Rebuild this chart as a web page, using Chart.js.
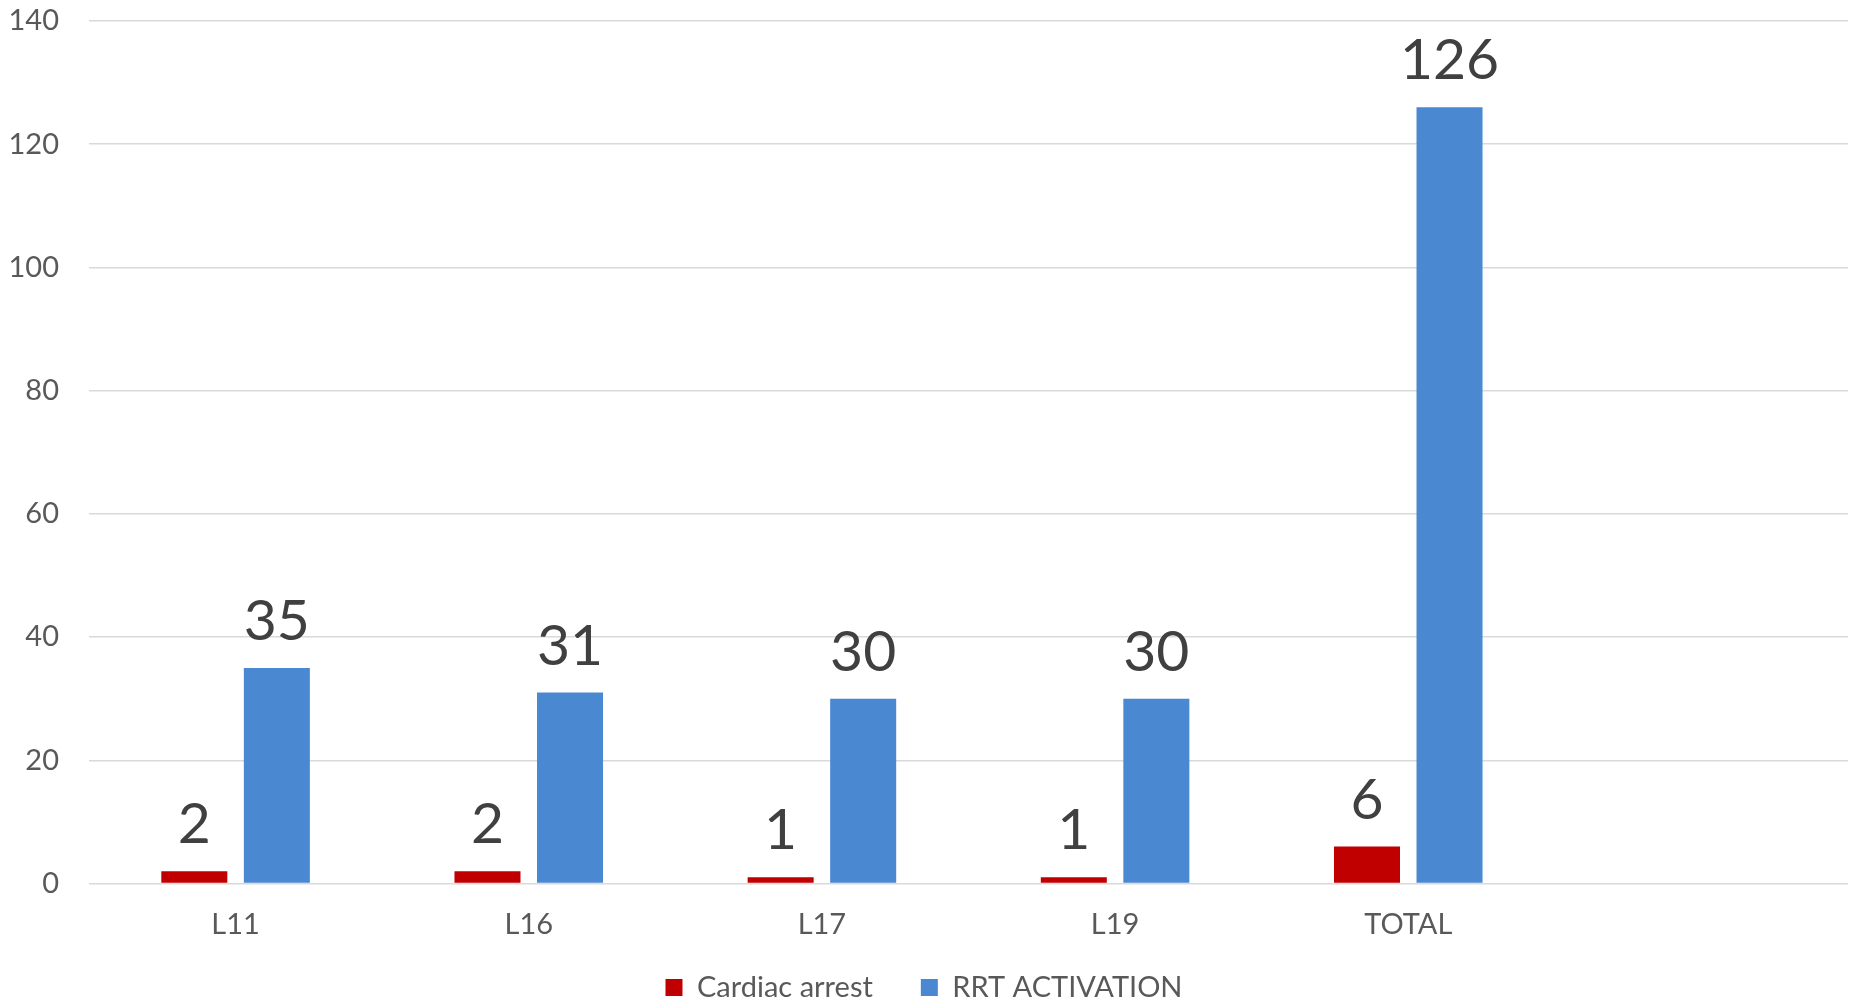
<!DOCTYPE html>
<html>
<head>
<meta charset="utf-8">
<title>Cardiac arrest vs RRT activation</title>
<script src="https://cdn.jsdelivr.net/npm/chart.js@4"></script>
<style>
    html, body { margin: 0; padding: 0; overflow: hidden; background: #ffffff; }
    #wrap { width: 1852px; height: 1012px; position: relative; }
</style>
</head>
<body>
<div id="wrap"><canvas id="wardChart"></canvas></div>
<script>
// Categories (last slot is empty in the original chart)
const wards = ['L11', 'L16', 'L17', 'L19', 'TOTAL', ''];
const cardiacArrest = [2, 2, 1, 1, 6, null];
const rrtActivation = [35, 31, 30, 30, 126, null];
const yTicks = [0, 20, 40, 60, 80, 100, 120, 140];

const FONT = 'Lato, "Open Sans", "DejaVu Sans", sans-serif';

/**
 * Draws the big value labels above each bar
 */
const valueLabels = {
    id: 'valueLabels',
    afterDatasetsDraw(chart) {
        const ctx = chart.ctx;
        ctx.save();
        ctx.font = '57px ' + FONT;
        ctx.fillStyle = '#404040';
        ctx.textAlign = 'center';
        ctx.textBaseline = 'alphabetic';
        chart.data.datasets.forEach((ds, i) => {
            const meta = chart.getDatasetMeta(i);
            if (meta.hidden) return;
            meta.data.forEach((bar, j) => {
                const v = ds.data[j];
                if (v === null || v === undefined) return;
                ctx.fillText(String(v), bar.x, bar.y - 28);
            });
        });
        ctx.restore();
    }
};

/**
 * The x axis box is kept short so the legend sits low; let its labels
 * draw below the box instead of being clipped
 */
const xLabelRoom = {
    id: 'xLabelRoom',
    afterLayout(chart) {
        const x = chart.scales.x;
        if (x) x.bottom = x.top + 70;
    }
};

const ctx = document.getElementById('wardChart');
new Chart(ctx, {
    type: 'bar',
    data: {
        labels: wards,
        datasets: [
            {
                label: 'Cardiac arrest',
                data: cardiacArrest,
                backgroundColor: '#C00000',
                categoryPercentage: 0.563,
                barPercentage: 0.8
            },
            {
                label: 'RRT ACTIVATION',
                data: rrtActivation,
                backgroundColor: '#4A89D1',
                categoryPercentage: 0.563,
                barPercentage: 0.8
            }
        ]
    },
    options: {
        responsive: true,
        maintainAspectRatio: false,
        animation: false,
        layout: {
            padding: { top: 21, right: 4, left: 0, bottom: 0 }
        },
        plugins: {
            legend: {
                position: 'bottom',
                labels: {
                    color: '#595959',
                    font: { family: FONT, size: 29 },
                    boxWidth: 17,
                    boxHeight: 17,
                    padding: 48
                }
            },
            tooltip: { enabled: false }
        },
        scales: {
            x: {
                grid: { display: false, drawTicks: false },
                border: { display: false },
                ticks: {
                    color: '#595959',
                    font: { family: FONT, size: 29 },
                    padding: 24,
                    maxRotation: 0
                },
                afterFit(scale) {
                    scale.height = 41.5;
                }
            },
            y: {
                min: 0,
                max: 140,
                afterBuildTicks(scale) {
                    scale.ticks = yTicks.map(v => ({ value: v }));
                },
                grid: { color: '#d9d9d9', lineWidth: 1.5, drawTicks: false },
                border: { display: false },
                ticks: {
                    color: '#595959',
                    font: { family: FONT, size: 29 },
                    padding: 30
                },
                afterFit(scale) {
                    scale.width = 89;
                    scale.paddingTop = 0;
                    scale.paddingBottom = 0;
                }
            }
        }
    },
    plugins: [valueLabels, xLabelRoom]
});
</script>
</body>
</html>
